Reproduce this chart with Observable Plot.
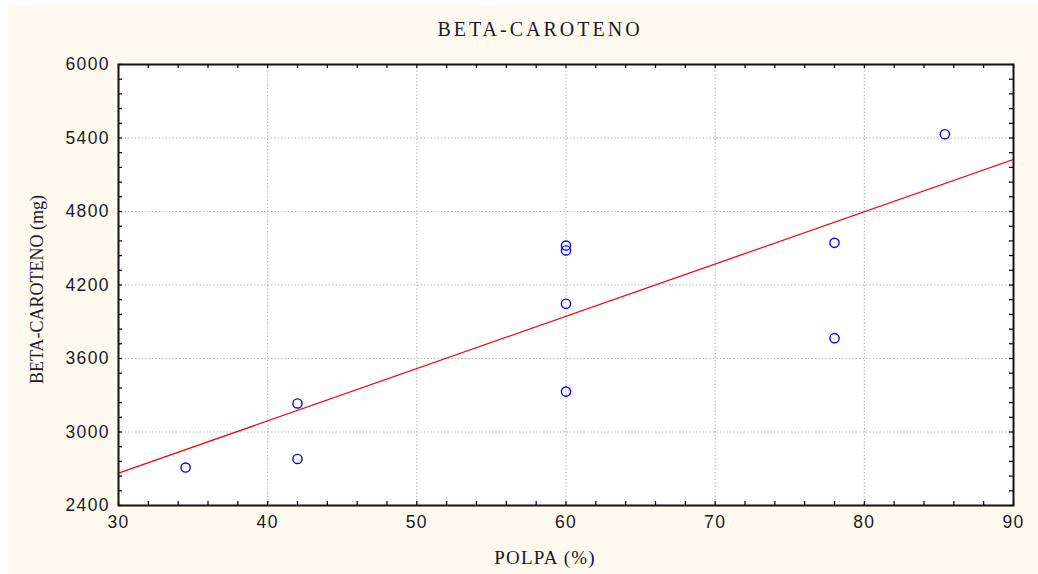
<!DOCTYPE html>
<html>
<head>
<meta charset="utf-8">
<script src="https://cdn.jsdelivr.net/npm/d3@7"></script>
<script src="https://cdn.jsdelivr.net/npm/@observablehq/plot@0.6"></script>
<style>
  html, body { margin: 0; padding: 0; background: #ffffff; }
  #chart { position: absolute; left: 8px; top: 5px; }
</style>
</head>
<body>
<div id="chart"></div>
<script>
// Data
const polpa = [34.5, 42, 42, 60, 60, 60, 60, 78, 78, 85.4];
const betaCaroteno = [2710, 2780, 3233, 3330, 4047, 4482, 4522, 4544, 3766, 5431];

// Fitted line endpoints
const fitX = [30, 90];
const fitY = [2664, 5225];

// Ticks
const xMajor = [30, 40, 50, 60, 70, 80, 90];
const yMajor = [2400, 3000, 3600, 4200, 4800, 5400, 6000];
const xMinor = d3.range(30, 90.001, 2);
const yMinor = d3.range(2400, 6000.001, 120);

const titleText = "BETA-CAROTENO";
const xLabelText = "POLPA (%)";
const yLabelText = "BETA-CAROTENO (mg)";

const points = polpa.map((x, i) => ({x, y: betaCaroteno[i]}));
const fit = fitX.map((x, i) => ({x, y: fitY[i]}));

const W = 1030, H = 569;
const mL = 110, mT = 59, mR = 25, mB = 69;
const innerH = H - mT - mB;
const innerW = W - mL - mR;
const tickLen = 4;
const serif = "Liberation Serif, Times New Roman, serif";
const ink = "#1a1a24";

const chart = Plot.plot({
  width: W,
  height: H,
  marginLeft: mL,
  marginTop: mT,
  marginRight: mR,
  marginBottom: mB,
  style: {
    background: "#fefaf0",
    fontFamily: "Liberation Sans, Arial, sans-serif",
    fontSize: "17.5px",
    color: ink,
    overflow: "visible"
  },
  x: {domain: [30, 90]},
  y: {domain: [2400, 6000]},
  marks: [
    Plot.frame({fill: "white", stroke: null}),
    Plot.gridX(xMajor, {stroke: "#a8a8a8", strokeOpacity: 1, strokeDasharray: "1.2,2.2", strokeWidth: 1}),
    Plot.gridY(yMajor, {stroke: "#a8a8a8", strokeOpacity: 1, strokeDasharray: "1.2,2.2", strokeWidth: 1}),
    Plot.tickX(xMinor, {x: d => d, insetTop: innerH - tickLen, stroke: "#000", strokeWidth: 1.2}),
    Plot.tickX(xMinor, {x: d => d, insetBottom: innerH - tickLen, stroke: "#000", strokeWidth: 1.2}),
    Plot.tickY(yMinor, {y: d => d, insetRight: innerW - tickLen, stroke: "#000", strokeWidth: 1.2}),
    Plot.tickY(yMinor, {y: d => d, insetLeft: innerW - tickLen, stroke: "#000", strokeWidth: 1.2}),
    Plot.axisX(xMajor, {tickSize: 0, tickPadding: 10, label: null, tickFormat: d => String(d), fill: ink}),
    Plot.axisY(yMajor, {tickSize: 0, tickPadding: 8.5, label: null, tickFormat: d => String(d), fill: ink}),
    Plot.line(fit, {x: "x", y: "y", stroke: "#ff0000", strokeWidth: 1.3, clip: true}),
    Plot.dot(points, {x: "x", y: "y", r: 4.6, stroke: "#0000ff", strokeWidth: 1.4, fill: "none"}),
    Plot.frame({stroke: "#111", strokeWidth: 2}),
    Plot.text([titleText], {text: d => d, frameAnchor: "top", dx: -26, dy: -35, lineAnchor: "middle", textAnchor: "middle",
      fontFamily: serif, fontSize: 20, fill: ink}),
    Plot.text([xLabelText], {text: d => d, frameAnchor: "bottom", dx: -21, dy: 52, lineAnchor: "middle", textAnchor: "middle",
      fontFamily: serif, fontSize: 19, fill: ink}),
    Plot.text([yLabelText], {text: d => d, frameAnchor: "left", dx: -81, dy: 4.5, rotate: -90, lineAnchor: "middle", textAnchor: "middle",
      fontFamily: serif, fontSize: 18, fill: ink})
  ]
});

// letter spacing to mimic the reference's wide glyphs
d3.select(chart).selectAll("text").each(function() {
  const t = this.textContent;
  if (t === titleText) this.style.letterSpacing = "3px";
  else if (t === xLabelText) this.style.letterSpacing = "1.2px";
  else if (/^\d+$/.test(t)) this.style.letterSpacing = "1.4px";
});
document.getElementById("chart").appendChild(chart);
</script>
</body>
</html>
